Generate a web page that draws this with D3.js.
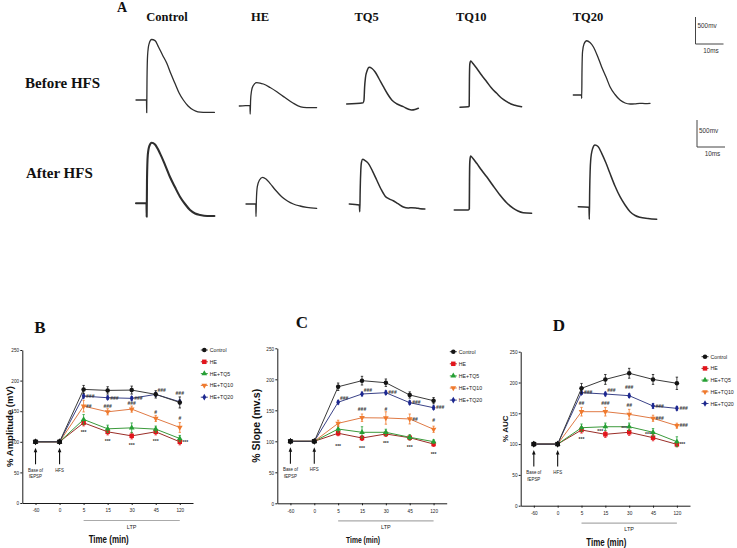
<!DOCTYPE html>
<html><head><meta charset="utf-8">
<script src="https://cdn.jsdelivr.net/npm/d3@7"></script>
<style>body{margin:0;background:#fff}svg{display:block;opacity:0.999}</style>
</head><body><svg id="fig" width="737" height="548"></svg>
<script>
// ---------------- DATA ----------------
const timeLabels = ["-60","0","5","15","30","45","120"];
const yTicks = [0,50,100,150,200,250];
const seriesNames = ["Control","HE","HE+TQ5","HE+TQ10","HE+TQ20"];
const groupNames = ["Control","HE","TQ5","TQ10","TQ20"];
const rowNames = ["Before HFS","After HFS"];

// % Amplitude (mV)
const ampControl = [100,100,185.6,184,184.5,177.5,164.3];
const ampHE      = [100,100,131,116.3,109.7,116.3,100];
const ampTQ5     = [100,100,136.5,121.2,122.8,120.7,105.4];
const ampTQ10    = [100,100,158.3,149,153.4,138.2,123.4];
const ampTQ20    = [100,100,174.7,172,171,177.5,165.4];
const ampErrControl = [0,0,6.5,6,6.5,6,9];
const ampErrHE      = [0,0,5,5,5,5,5];
const ampErrTQ5     = [0,0,8,6,8,5,5];
const ampErrTQ10    = [0,0,9.5,5,5,5,8];
const ampErrTQ20    = [0,0,3,3,3,3,3];

// % Slope (mv.s)
const slopeControl = [100,100,188,197.8,194.5,174.7,165.5];
const slopeHE      = [100,100,113,105.3,111.8,105.8,95.6];
const slopeTQ5     = [100,100,119.8,114.5,114.5,106.5,99.4];
const slopeTQ10    = [100,100,129,138,137.6,136,119.4];
const slopeTQ20    = [100,100,163,176.3,178.4,162.3,154.2];
const slopeErrControl = [0,0,6,7,6,5,5];
const slopeErrHE      = [0,0,4,4,4,4,4];
const slopeErrTQ5     = [0,0,5,9,5,4,3];
const slopeErrTQ10    = [0,0,5,6,10,8,5];
const slopeErrTQ20    = [0,0,3,3,3,3,3];

// % AUC
const aucControl = [100,100,190.5,205,215,205,198.7];
const aucHE      = [100,100,122.9,115.9,119.2,110.4,99.6];
const aucTQ5     = [100,100,126.6,128.2,128.2,119.2,103.9];
const aucTQ10    = [100,100,152.6,152.6,148.4,141.9,129.9];
const aucTQ20    = [100,100,183.5,181.3,178.6,161.9,158];
const aucErrControl = [0,0,8,8,8,8,10];
const aucErrHE      = [0,0,5,5,5,5,4];
const aucErrTQ5     = [0,0,6,6,6,6,8];
const aucErrTQ10    = [0,0,7,7,8,5,4];
const aucErrTQ20    = [0,0,3,3,3,4,3];

// significance marks: [time, series index, text, placement]
const ampSig = [
 ["5",4,"###","r"],["15",4,"###","r"],["30",4,"###","r"],["45",4,"###","ar"],["120",4,"###","A"],
 ["5",3,"##","r"],["15",3,"###","a"],["30",3,"###","a"],["45",3,"#","a"],["120",3,"#","A"],
 ["5",1,"***","b"],["15",1,"***","b"],["30",1,"***","b"],["45",1,"***","b"],["120",1,"***","r"]
];
const slopeSig = [
 ["5",4,"###","ar"],["15",4,"###","ar"],["30",4,"###","r"],["45",4,"###","r"],["120",4,"###","r"],
 ["15",3,"###","A"],["30",3,"#","A"],["45",3,"##","r"],["120",3,"#","A"],
 ["5",1,"***","B"],["15",1,"***","b"],["30",1,"***","b"],["45",1,"***","b"],["120",1,"***","b"]
];
const aucSig = [
 ["5",4,"###","r"],["15",4,"###","ar"],["30",4,"###","A"],["45",4,"###","r"],["120",4,"###","r"],
 ["5",3,"##","A"],["15",3,"###","A"],["30",3,"##","A"],["45",3,"###","r"],["120",3,"###","r"],
 ["5",1,"***","b"],["15",1,"***","l"],["30",1,"***","l"],["45",1,"***","l"],["120",1,"***","r"]
];

// fEPSP traces: [time (ms), potential (mv)] relative to the trace start
const traceCtrlBefore = [[0,0],[3.75,0],[3.82,-235],[3.93,370],[4.14,830],[4.64,1035],[5.6,1120],[6.8,1100],[8,985],[9.5,830],[11,680],[12.5,480],[13.9,310],[15.4,130],[16.9,0],[18.6,-110],[20.5,-185],[22.1,-218],[24,-228],[28,-231]];
const traceHEBefore = [[0,-9],[3.82,4],[3.89,-157],[4.04,100],[4.36,268],[4.89,361],[6.2,422],[7.4,416],[8.6,398],[11,333],[13.4,255],[16.3,148],[19.3,41],[21,-6],[22.9,-33],[25.3,-41],[27.6,-41]];
const traceTQ5Before = [[0,-9],[5.9,15],[6.18,65],[6.39,296],[6.71,481],[7.25,601],[8.07,672],[9.04,648],[10.1,589],[11.5,463],[13.1,311],[14.6,176],[16.1,65],[18,-9],[20.2,-59],[21.9,-102],[23.2,-120],[24.4,-111],[25.6,-89]];
const traceTQ10Before = [[0,0],[2.96,11],[3.29,24],[3.36,505],[3.5,800],[3.82,857],[4.64,810],[5.96,722],[7.68,598],[9.54,474],[11.25,357],[13.1,259],[14.8,172],[16.7,104],[18.2,61],[19.6,37],[22,11]];
const traceTQ20Before = [[0,0],[2.93,0],[3.0,-61],[3.11,463],[3.29,796],[3.82,944],[4.79,1005],[5.96,971],[7.14,894],[8.64,722],[10.1,524],[11.7,333],[13.1,154],[14.9,9],[16.7,-93],[18.5,-148],[20.3,-167],[22,-163],[23.8,-154],[25.6,-159],[27.4,-154]];
const traceCtrlAfter = [[0,0],[3.75,0],[3.82,-248],[3.93,431],[4.21,894],[4.75,1060],[5.61,1121],[6.79,1088],[8.57,925],[10.4,708],[12.1,492],[13.9,301],[15.7,122],[17.5,-13],[19.3,-124],[21.1,-189],[22.9,-216],[25.4,-235],[28,-235]];
const traceHEAfter = [[0,0],[3.5,0],[3.57,-235],[3.71,74],[4.04,320],[4.82,444],[5.96,494],[7.14,463],[8.57,383],[10.5,259],[12.75,135],[14.8,56],[16.9,0],[19.3,-37],[21.7,-61],[25.25,-80]];
const traceTQ5After = [[0,0],[3.57,-19],[3.75,-142],[3.89,259],[4.11,629],[4.36,777],[4.79,827],[5.61,805],[6.79,753],[8.29,610],[9.79,444],[11.3,278],[12.75,150],[14.2,95],[15.7,60],[17.4,5],[19.3,-55],[21,-75],[22.3,-68],[23.8,-72],[25.25,-88],[27,-92]];
const traceTQ10After = [[0,0],[5,0],[5.36,19],[5.43,555],[5.54,888],[5.79,999],[6.68,953],[8,864],[9.71,740],[11.57,616],[13.8,453],[16.3,278],[18.6,139],[21.1,31],[22.75,-19],[24.6,-50],[27.6,-61]];
const traceTQ20After = [[0,0],[3.82,-11],[3.93,-233],[4.07,309],[4.43,864],[5.07,1068],[5.96,1141],[7.04,1114],[8.36,988],[9.89,808],[11.3,618],[13.1,383],[14.9,185],[16.7,31],[18.5,-93],[20.3,-163],[22,-196],[24.9,-218],[28,-233]];
const scaleBarMs = 10, scaleBarMv = 500;

// ---------------- DRAWING ----------------
const serif = "'Liberation Serif','Times New Roman',serif";
const sans = "'Liberation Sans',Arial,sans-serif";
const svg = d3.select("#fig");
svg.append("rect").attr("width",737).attr("height",548).attr("fill","#fff");

function squeeze(sel,f){
  sel.each(function(){
    const L = this.getComputedTextLength();
    d3.select(this).attr("textLength",L*f).attr("lengthAdjust","spacingAndGlyphs");
  });
}

// ---- Panel A ----
const A = svg.append("g");
A.append("text").attr("x",117).attr("y",12).text("A")
  .style("font-family",serif).style("font-weight","bold").style("font-size","14px").attr("fill","#111");
const colCenters = [167,260,366.7,471.3,588];
groupNames.forEach((g,i)=>{
  A.append("text").attr("x",colCenters[i]).attr("y",21).attr("text-anchor","middle").text(g)
   .style("font-family",serif).style("font-weight","bold").style("font-size","12.5px").attr("fill","#111");
});
const rowPos = [[25,88],[26,178]];
rowNames.forEach((r,i)=>{
  A.append("text").attr("x",rowPos[i][0]).attr("y",rowPos[i][1]).text(r)
   .style("font-family",serif).style("font-weight","bold").style("font-size","15px").attr("fill","#111");
});

const pxPerMs = 2.8, pxPerMv = 0.054;
function traceScales(x0,y0){
  return {
    x: d3.scaleLinear().domain([0,10]).range([x0, x0+10*pxPerMs]),
    y: d3.scaleLinear().domain([0,500]).range([y0, y0-500*pxPerMv])
  };
}
const traces = [
  {d:traceCtrlBefore,x0:136,y0:100,w:1.3},
  {d:traceHEBefore,x0:239.3,y0:105.5,w:1.3},
  {d:traceTQ5Before,x0:346.7,y0:103.5,w:1.5},
  {d:traceTQ10Before,x0:460,y0:107.3,w:1.5},
  {d:traceTQ20Before,x0:573.3,y0:95,w:1.3},
  {d:traceCtrlAfter,x0:136,y0:203.3,w:2.1},
  {d:traceHEAfter,x0:246,y0:204,w:1.3},
  {d:traceTQ5After,x0:349.3,y0:204,w:1.5},
  {d:traceTQ10After,x0:454.3,y0:210,w:1.6},
  {d:traceTQ20After,x0:578.3,y0:206.7,w:1.5}
];
traces.forEach(t=>{
  const s = traceScales(t.x0,t.y0);
  const line = d3.line().x(d=>s.x(d[0])).y(d=>s.y(d[1])).curve(d3.curveMonotoneX);
  A.append("path").attr("d",line(t.d)).attr("fill","none").attr("stroke","#2e2e2e")
   .attr("stroke-width",t.w).attr("stroke-linejoin","round").attr("stroke-linecap","round");
});
// scale bars
const bars = [{x0:695.5,y0:44,ty:28,by:53},{x0:697,y0:147,ty:132.5,by:156}];
bars.forEach(b=>{
  const s = traceScales(b.x0,b.y0);
  const p = d3.path();
  p.moveTo(s.x(0),s.y(scaleBarMv)); p.lineTo(s.x(0),s.y(0)); p.lineTo(s.x(scaleBarMs),s.y(0));
  A.append("path").attr("d",p.toString()).attr("fill","none").attr("stroke","#444").attr("stroke-width",1);
  A.append("text").attr("x",s.x(0)+2).attr("y",b.ty).text(scaleBarMv+"mv")
   .style("font-family",sans).style("font-size","7.5px").attr("fill","#333").call(squeeze,0.85);
  A.append("text").attr("x",s.x(scaleBarMs/2)+1.5).attr("y",b.by).attr("text-anchor","middle").text(scaleBarMs+"ms")
   .style("font-family",sans).style("font-size","7.5px").attr("fill","#333").call(squeeze,0.85);
});

// ---- Line charts ----
const markColor = ["#151515","#e3141b","#25a035","#f07a2d","#1c2790"];
const lineColor = ["#3a3a3a","#9a2d27","#3b9a3b","#e07a45","#3a4288"];
const symTypes = [d3.symbolCircle,d3.symbolSquare,d3.symbolTriangle,d3.symbolTriangle,d3.symbolDiamond];
const symSize = [16,20,14,14,13];
const symRot = [0,0,0,180,0];
const place = {
  r:{dx:2.5,dy:1.8,a:"start"}, ar:{dx:1.8,dy:-2.2,a:"start"},
  a:{dx:0,dy:-4,a:"middle"}, A:{dx:0,dy:-7,a:"middle"},
  b:{dx:0,dy:11.5,a:"middle"}, B:{dx:0,dy:15,a:"middle"}, l:{dx:-2.2,dy:-1.8,a:"end"}
};

function drawPanel(cfg){
  const g = svg.append("g");
  const x = d3.scalePoint().domain(timeLabels).range([cfg.left,cfg.right]).padding(0.55);
  const y = d3.scaleLinear().domain([0,250]).range([cfg.bottom,cfg.top]);
  const ya = g.append("g").attr("transform",`translate(${cfg.left},0)`)
    .call(d3.axisLeft(y).tickValues(yTicks).tickSize(2).tickSizeOuter(0).tickPadding(1.2));
  const xa = g.append("g").attr("transform",`translate(0,${cfg.bottom})`)
    .call(d3.axisBottom(x).tickSize(2).tickSizeOuter(0).tickPadding(3.3));
  [ya,xa].forEach(a=>{
    a.selectAll("path,line").attr("stroke","#1a1a1a").attr("stroke-width",1);
    a.selectAll("text").style("font-family",sans).style("font-size","5.5px").attr("fill","#222").call(squeeze,0.85);
  });
  // panel letter
  g.append("text").attr("x",cfg.letterX).attr("y",cfg.letterY).attr("text-anchor","middle").text(cfg.letter)
   .style("font-family",serif).style("font-weight","bold").style("font-size","17px").attr("fill","#111");
  // axis titles
  g.append("text").attr("transform",`translate(${cfg.yLabelX},${(cfg.top+cfg.bottom)/2}) rotate(-90)`)
   .attr("text-anchor","middle").attr("dy","0.35em").text(cfg.yLabel)
   .style("font-family",sans).style("font-weight","bold").style("font-size",cfg.yLabelSize+"px").attr("fill","#111");
  g.append("text").attr("x",(cfg.left+cfg.right)/2+1).attr("y",cfg.bottom+40).attr("text-anchor","middle")
   .attr("textLength",cfg.xLabelLen).attr("lengthAdjust","spacingAndGlyphs").text("Time (min)")
   .style("font-family",sans).style("font-weight","bold").style("font-size",cfg.xLabelSize+"px").attr("fill","#111");
  // LTP bar
  g.append("line").attr("x1",x("5")).attr("x2",x("120")).attr("y1",cfg.bottom+17.5).attr("y2",cfg.bottom+17.5)
   .attr("stroke","#aaa").attr("stroke-width",1.2);
  g.append("text").attr("x",x("30")).attr("y",cfg.bottom+25.5).attr("text-anchor","middle").text("LTP")
   .style("font-family",sans).style("font-size","5.5px").attr("fill","#222");
  // arrows
  const y100 = y(100);
  [["-60",["Base of","fEPSP"]],["0",["HFS"]]].forEach(([t,lab])=>{
    const ax = x(t);
    g.append("line").attr("x1",ax).attr("x2",ax).attr("y1",y100+9).attr("y2",y100+22.5)
     .attr("stroke","#111").attr("stroke-width",1.1);
    g.append("path").attr("d",`M${ax},${y100+6}L${ax-1.8},${y100+10.5}L${ax+1.8},${y100+10.5}Z`).attr("fill","#111");
    lab.forEach((s,k)=>{
      g.append("text").attr("x",ax).attr("y",y100+30+k*6.5).attr("text-anchor","middle").text(s)
       .style("font-family",sans).style("font-size","5.2px").attr("fill","#222").call(squeeze,0.85);
    });
  });
  // series
  const order = [1,2,3,4,0];
  order.forEach(si=>{
    const vals = cfg.means[si], errs = cfg.errs[si];
    const pts = timeLabels.map((t,i)=>({t,v:vals[i],e:errs[i]}));
    const line = d3.line().x(d=>x(d.t)).y(d=>y(d.v));
    g.append("path").attr("d",line(pts)).attr("fill","none").attr("stroke",lineColor[si]).attr("stroke-width",1);
    pts.filter(d=>d.e>0).forEach(d=>{
      const cx = x(d.t);
      g.append("path").attr("d",`M${cx},${y(d.v+d.e)}V${y(d.v-d.e)}M${cx-1.2},${y(d.v+d.e)}H${cx+1.2}M${cx-1.2},${y(d.v-d.e)}H${cx+1.2}`)
       .attr("stroke",markColor[si]).attr("stroke-width",0.8).attr("fill","none");
    });
    g.selectAll(null).data(pts).join("path")
     .attr("transform",d=>`translate(${x(d.t)},${y(d.v)}) rotate(${symRot[si]})`)
     .attr("d",d3.symbol().type(symTypes[si]).size(symSize[si])())
     .attr("fill",d=>(d.t==="-60"||d.t==="0")?"#111":markColor[si]);
  });
  // significance marks
  cfg.sig.forEach(([t,si,txt,p])=>{
    const o = place[p];
    g.append("text").attr("x",x(t)+o.dx).attr("y",y(cfg.means[si][timeLabels.indexOf(t)])+o.dy)
     .attr("text-anchor",o.a).text(txt)
     .style("font-family",sans).style("font-size","5px").style("font-weight","bold").attr("fill","#333");
  });
  // legend
  seriesNames.forEach((n,i)=>{
    const ly = cfg.legY + i*cfg.legDy;
    g.append("line").attr("x1",cfg.legX-3.5).attr("x2",cfg.legX+3.5).attr("y1",ly).attr("y2",ly)
     .attr("stroke",lineColor[i]).attr("stroke-width",1);
    g.append("path").attr("transform",`translate(${cfg.legX},${ly}) rotate(${symRot[i]})`)
     .attr("d",d3.symbol().type(symTypes[i]).size(symSize[i])()).attr("fill",markColor[i]);
    g.append("text").attr("x",cfg.legX+5.5).attr("y",ly+2).text(n)
     .style("font-family",sans).style("font-size","6.2px").attr("fill","#222").call(squeeze,0.84);
  });
}

drawPanel({left:22.3,right:193,top:350,bottom:503,letter:"B",letterX:40,letterY:333,
  yLabel:"% Amplitude (mV)",yLabelX:9.5,yLabelSize:9.5,xLabelLen:40,xLabelSize:10,
  legX:204.3,legY:350,legDy:11.8,
  means:[ampControl,ampHE,ampTQ5,ampTQ10,ampTQ20],
  errs:[ampErrControl,ampErrHE,ampErrTQ5,ampErrTQ10,ampErrTQ20],sig:ampSig});
drawPanel({left:277.3,right:446.7,top:348.3,bottom:503.3,letter:"C",letterX:302,letterY:328,
  yLabel:"% Slope (mv.s)",yLabelX:256,yLabelSize:10.5,xLabelLen:34,xLabelSize:9,
  legX:453.3,legY:351.7,legDy:12.1,
  means:[slopeControl,slopeHE,slopeTQ5,slopeTQ10,slopeTQ20],
  errs:[slopeErrControl,slopeErrHE,slopeErrTQ5,slopeErrTQ10,slopeErrTQ20],sig:slopeSig});
drawPanel({left:520.7,right:690,top:351.7,bottom:505.7,letter:"D",letterX:559,letterY:331,
  yLabel:"% AUC",yLabelX:505,yLabelSize:8,xLabelLen:40,xLabelSize:10,
  legX:705,legY:356.7,legDy:11.7,
  means:[aucControl,aucHE,aucTQ5,aucTQ10,aucTQ20],
  errs:[aucErrControl,aucErrHE,aucErrTQ5,aucErrTQ10,aucErrTQ20],sig:aucSig});
</script>
</body></html>
